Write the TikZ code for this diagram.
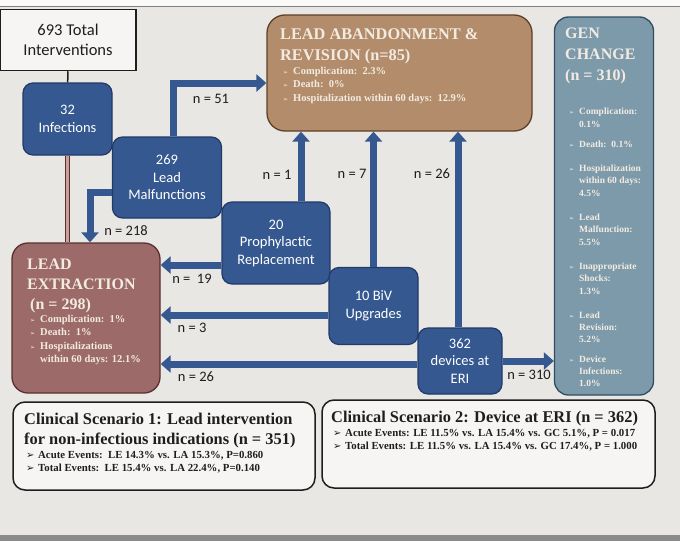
\documentclass[tikz,border=0pt]{standalone}
\usepackage{fontspec}
\usepackage{tikz}
\usetikzlibrary{arrows.meta}
\usetikzlibrary{positioning}
\newfontfamily\calib{Carlito}
\newfontfamily\tnr{Liberation Serif}
\newfontfamily\symf{DejaVu Sans}
\definecolor{bgc}{HTML}{E8E7E3}
\definecolor{stripc}{HTML}{8A8A8A}
\definecolor{bluefill}{HTML}{34588F}
\definecolor{bluedark}{HTML}{22396A}
\definecolor{abfill}{HTML}{B38D6B}
\definecolor{abdark}{HTML}{5E3F28}
\definecolor{genfill}{HTML}{7D9AAA}
\definecolor{gendark}{HTML}{2F4D63}
\definecolor{exfill}{HTML}{9C6B69}
\definecolor{exdark}{HTML}{5A2F2F}
\definecolor{palec}{HTML}{F2EBE2}
\definecolor{pinkbar}{HTML}{C9A09A}
\definecolor{inkc}{HTML}{1E1E1E}
\newcommand\bul{\makebox[10pt][l]{\symf\fontsize{6}{6}\selectfont ➢}}
\newcommand\bulb{\makebox[12pt][l]{\symf\fontsize{10}{10}\selectfont ➢}}
\tikzset{
 bluebox/.style={rectangle, rounded corners=10pt, draw=bluedark, line width=1.2pt, fill=bluefill, text=white, align=center, inner sep=0pt, font=\calib\fontsize{14.5}{17.5}\selectfont},
 bigbox/.style={rectangle, line width=1.3pt, inner sep=0pt},
 scenbox/.style={rectangle, rounded corners=12pt, draw=inkc, line width=1.5pt, fill=white!60!bgc, inner sep=0pt},
 paletitle/.style={anchor=north west, inner sep=0pt, align=left, text=palec, font=\tnr\bfseries\fontsize{16}{21}\selectfont},
 palelist/.style={anchor=north west, inner sep=0pt, align=left, text=palec, font=\tnr\bfseries\fontsize{10.5}{13.5}\selectfont},
 scentitle/.style={anchor=north west, inner sep=0pt, align=left, text=inkc, font=\tnr\bfseries\fontsize{16.4}{20}\selectfont},
 scenlist/.style={anchor=north west, inner sep=0pt, align=left, text=inkc, font=\tnr\bfseries\fontsize{10.8}{13}\selectfont},
 nlbl/.style={inner sep=0pt, text=inkc, font=\calib\fontsize{14.5}{16}\selectfont},
 flow/.style={draw=bluefill, line width=7pt, -{Triangle[width=17pt,length=10pt]}}
}

\begin{document}
\begin{tikzpicture}[x=1pt, y=-1pt]
 \useasboundingbox (0,0) rectangle (680,541);
 \fill [bgc] (0,0) rectangle (680,541);
 \fill [white!80!bgc] (0,0) rectangle (680,6);
 \draw [gray, line width=0.8pt] (0,6) -- (680,6);
 \fill [stripc] (0,535) rectangle (680,541);

 \node [rectangle, draw=inkc, line width=1.5pt, fill=white!60!bgc, minimum width=136pt, minimum height=61pt, align=center, text=inkc, font=\calib\fontsize{16.5}{20}\selectfont] (tot) at (68, 40) {693 Total\\Interventions};
 \node [bluebox, minimum width=89pt, minimum height=72pt] (inf) at (67.5, 119) {32\\Infections};
 \node [bluebox, minimum width=109pt, minimum height=81pt] (mal) at (167, 177.5) {269\\Lead\\Malfunctions};
 \node [bluebox, minimum width=108pt, minimum height=82pt] (proph) at (276, 243) {20\\Prophylactic\\Replacement};
 \node [bluebox, minimum width=89pt, minimum height=77pt] (biv) at (373.5, 306) {10 BiV\\Upgrades};
 \node [bluebox, minimum width=84pt, minimum height=66pt] (eri) at (460, 361) {362\\devices at\\ERI};

 \node [bigbox, rounded corners=18pt, draw=abdark, fill=abfill, minimum width=265pt, minimum height=116pt] (aband) at (399.5, 73) {};
 \node [bigbox, rounded corners=14pt, draw=gendark, fill=genfill, minimum width=99pt, minimum height=378pt] (gen) at (604, 206) {};
 \node [bigbox, rounded corners=16pt, draw=exdark, fill=exfill, minimum width=148pt, minimum height=150pt] (extr) at (86, 318) {};
 \node [scenbox, minimum width=302pt, minimum height=88pt] (scen1) at (164, 446) {};
 \node [scenbox, minimum width=333pt, minimum height=88pt] (scen2) at (488.5, 444) {};

 \node [paletitle, font=\tnr\bfseries\fontsize{16.3}{21}\selectfont] (abtitle) at (280, 28) {LEAD ABANDONMENT \&\\REVISION (n=85)};
 \node [palelist] (ablist) at (283, 67) {\bul Complication:\ \ 2.3\%\\\bul Death:\ \ 0\%\\\bul Hospitalization within 60 days:\ \ 12.9\%};
 \node [paletitle] (gentitle) at (565, 28) {GEN\\CHANGE\\(n = 310)};
 \node [palelist, font=\tnr\bfseries\fontsize{9.5}{12.3}\selectfont] (genlist) at (569, 108) {\bul Complication:\\\hspace*{10pt}0.1\%\\[8pt]\bul Death:\ \ 0.1\%\\[12pt]\bul Hospitalization\\\hspace*{10pt}within 60 days:\\\hspace*{10pt}4.5\%\\[12pt]\bul Lead\\\hspace*{10pt}Malfunction:\\\hspace*{10pt}5.5\%\\[12pt]\bul Inappropriate\\\hspace*{10pt}Shocks:\\\hspace*{10pt}1.3\%\\[12pt]\bul Lead\\\hspace*{10pt}Revision:\\\hspace*{10pt}5.2\%\\[7pt]\bul Device\\\hspace*{10pt}Infections:\\\hspace*{10pt}1.0\%};
 \node [paletitle, font=\tnr\bfseries\fontsize{16}{20}\selectfont] (extitle) at (27, 259) {LEAD\\EXTRACTION\\\hspace*{3pt}(n = 298)};
 \node [palelist] (exlist) at (30, 315) {\bul Complication:\ \ 1\%\\\bul Death:\ \ 1\%\\\bul Hospitalizations\\\hspace*{10pt}within 60 days: 12.1\%};

 \node [scentitle] (s1title) at (24, 413) {Clinical Scenario 1: Lead intervention\\for non-infectious indications (n = 351)};
 \node [scenlist] (s1list) at (26, 451) {\bulb Acute Events:\ \ LE 14.3\% vs. LA 15.3\%, P=0.860\\\bulb Total Events:\ \ LE 15.4\% vs. LA 22.4\%, P=0.140};
 \node [scentitle] (s2title) at (331, 411) {Clinical Scenario 2: Device at ERI (n = 362)};
 \node [scenlist] (s2list) at (333, 429) {\bulb Acute Events: LE 11.5\% vs. LA 15.4\% vs. GC 5.1\%, P = 0.017\\\bulb Total Events: LE 11.5\% vs. LA 15.4\% vs. GC 17.4\%, P = 1.000};

 \draw [line width=1.5pt, draw=inkc] (tot) -- (inf);
 \draw [line width=1pt, draw=exdark, double=pinkbar, double distance=3pt] (inf.south) -- (inf.south |- extr.north);
 \draw [flow] ([xshift=6pt]mal.north) |- ([yshift=-10pt]aband.west);
 \draw [flow] ([yshift=-15pt]mal.west) -| ([xshift=4pt]extr.north);
 \draw [flow] ([xshift=25pt]proph.north) -- ([xshift=25pt]proph.north |- aband.south);
 \draw [flow] (biv.north) -- (biv.north |- aband.south);
 \draw [flow] ([xshift=-2pt]eri.north) -- ([xshift=-2pt]eri.north |- aband.south);
 \draw [flow] ([yshift=-22pt]proph.west) -- ([yshift=-22pt]proph.west -| extr.east);
 \draw [flow] ([yshift=-9pt]biv.west) -- ([yshift=-9pt]biv.west -| extr.east);
 \draw [flow] ([yshift=-3pt]eri.west) -- ([yshift=-3pt]eri.west -| extr.east);
 \draw [flow] (eri.east) -- (eri.east -| gen.west);

 \node [nlbl] (n51) at (211, 99) {n = 51};
 \node [nlbl] (n218) at (126, 231) {n = 218};
 \node [nlbl] (n1) at (277, 175) {n = 1};
 \node [nlbl] (n7) at (352, 174) {n = 7};
 \node [nlbl] (n26a) at (432, 174) {n = 26};
 \node [nlbl] (n19) at (192, 279) {n = \ 19};
 \node [nlbl] (n3) at (192, 328) {n = 3};
 \node [nlbl] (n26b) at (196, 377) {n = 26};
 \node [nlbl] (n310) at (529, 375) {n = 310};
\end{tikzpicture}
\end{document}
